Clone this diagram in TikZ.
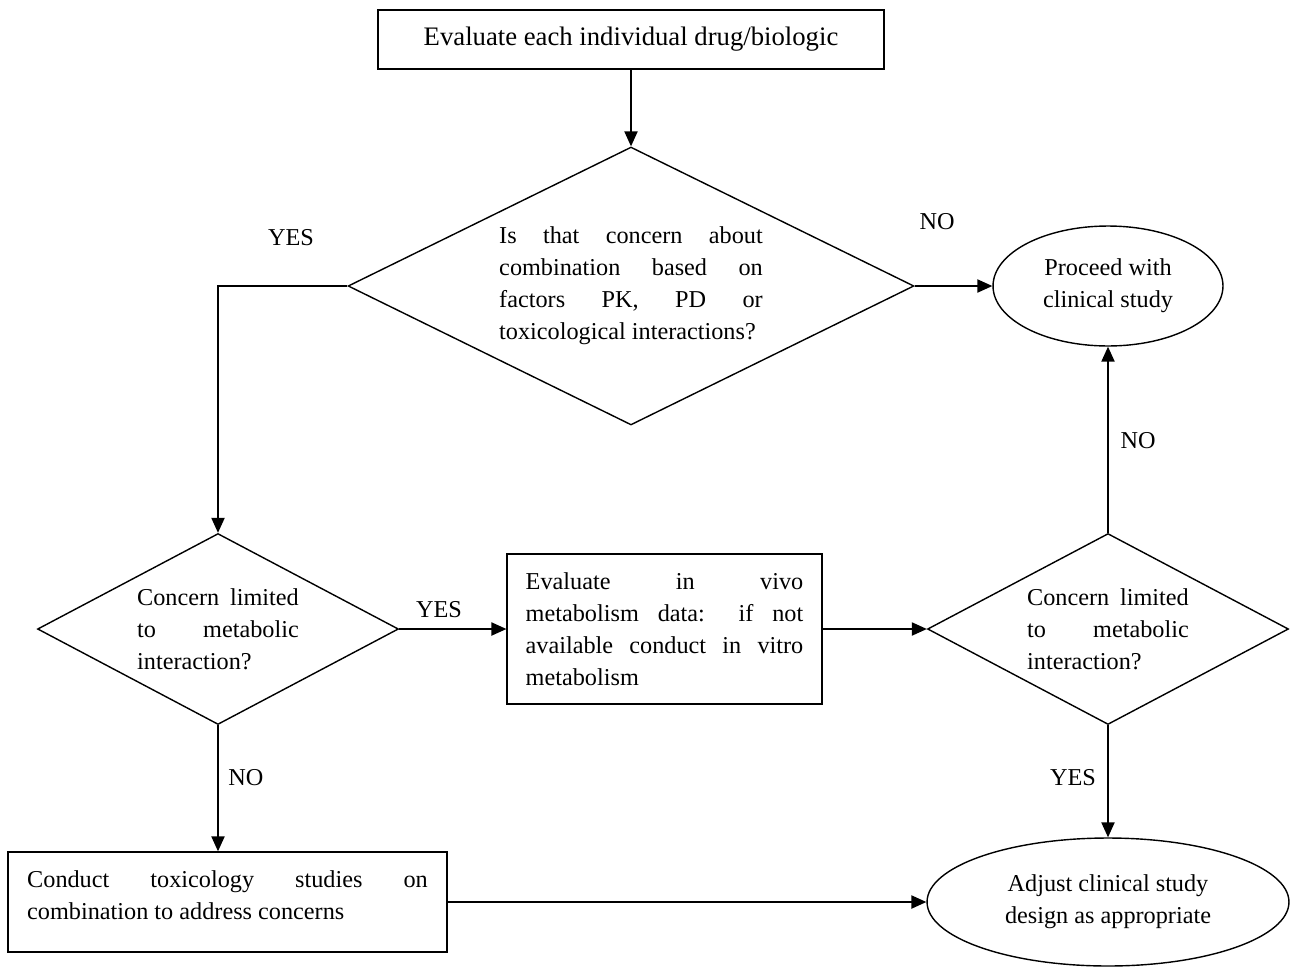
\documentclass[tikz,border=0pt]{standalone}
\usepackage{fontspec}
\setmainfont{Liberation Serif}
\usepackage{tikz}
\usetikzlibrary{shapes.geometric,arrows.meta,positioning}
\tolerance=10000
\hbadness=10000

\begin{document}
\begin{tikzpicture}[x=0.02cm, y=-0.02cm, line width=0.8pt,
    txt/.style={font=\fontsize{13.8}{18.2}\selectfont},
    stepbox/.style={txt, draw, rectangle, inner ysep=0pt, align=justify},
    question/.style={txt, draw, diamond, inner sep=0pt, aspect=#1, align=justify},
    outcome/.style={txt, draw, ellipse, inner sep=0pt, align=center},
    flow/.style={-{Triangle[length=8.5pt,width=7.5pt]}},
    answer/.style={txt, inner sep=0pt}]
    % Keep the page the size of the reference
    \useasboundingbox (0,0) rectangle (1294,967);

    % Start box and the first question
    \node[draw, rectangle, minimum width=10.12cm, minimum height=1.18cm,
          font=\fontsize{15.2}{18}\selectfont] (evaluate) at (631,39.5)
        {Evaluate each individual drug/biologic};
    \node[question=2.036, text width=150pt, minimum width=11.32cm, minimum height=5.56cm] (combo) at (631,286)
        {Is that concern about\linebreak combination based on\linebreak factors PK, PD or\linebreak toxicological interactions?};
    \node[outcome, minimum width=4.6cm, minimum height=2.4cm] (proceed) at (1108,286)
        {Proceed with\\clinical study};

    % Middle row
    \node[question=1.89, text width=92pt, minimum width=7.22cm, minimum height=3.82cm] (metabL) at (218,629)
        {Concern limited\linebreak to metabolic\linebreak interaction?};
    \node[stepbox, text width=158pt, inner xsep=10.6pt, minimum height=3cm] (invivo) at (664.5,629)
        {Evaluate in vivo\linebreak metabolism data: if not\linebreak available conduct in vitro\linebreak metabolism};
    \node[question=1.89, text width=92pt, minimum width=7.22cm, minimum height=3.82cm] (metabR) at (1108,629)
        {Concern limited\linebreak to metabolic\linebreak interaction?};

    % Bottom row
    \node[stepbox, text width=228pt, inner xsep=10.9pt, minimum height=2cm] (toxstudy) at (227.5,902)
        {Conduct toxicology studies on\linebreak combination to address concerns\par\kern8pt};
    \node[outcome, minimum width=7.24cm, minimum height=2.56cm] (adjust) at (1108,902)
        {Adjust clinical study\\design as appropriate};

    % Answers on the arrows
    \node[answer] (yesLeft) at (291,238) {YES};
    \node[answer] (noTop) at (937,222) {NO};
    \node[answer] (yesMid) at (439,610) {YES};
    \node[answer] (noUp) at (1138,441) {NO};
    \node[answer] (yesDown) at (1073,778) {YES};
    \node[answer] (noDown) at (246,778) {NO};

    % Arrows
    \draw[flow] (evaluate.south) -- (combo.north);
    \draw[flow] (combo.east) -- (proceed.west);
    \draw[flow] (combo.west) -| (metabL.north);
    \draw[flow] (metabL.east) -- (invivo.west);
    \draw[flow] (invivo.east) -- (metabR.west);
    \draw[flow] (metabR.north) -- (proceed.south);
    \draw[flow] (metabR.south) -- (adjust.north);
    \draw[flow] (metabL.south) -- (metabL.south |- toxstudy.north);
    \draw[flow] (toxstudy.east) -- (adjust.west);
\end{tikzpicture}
\end{document}
